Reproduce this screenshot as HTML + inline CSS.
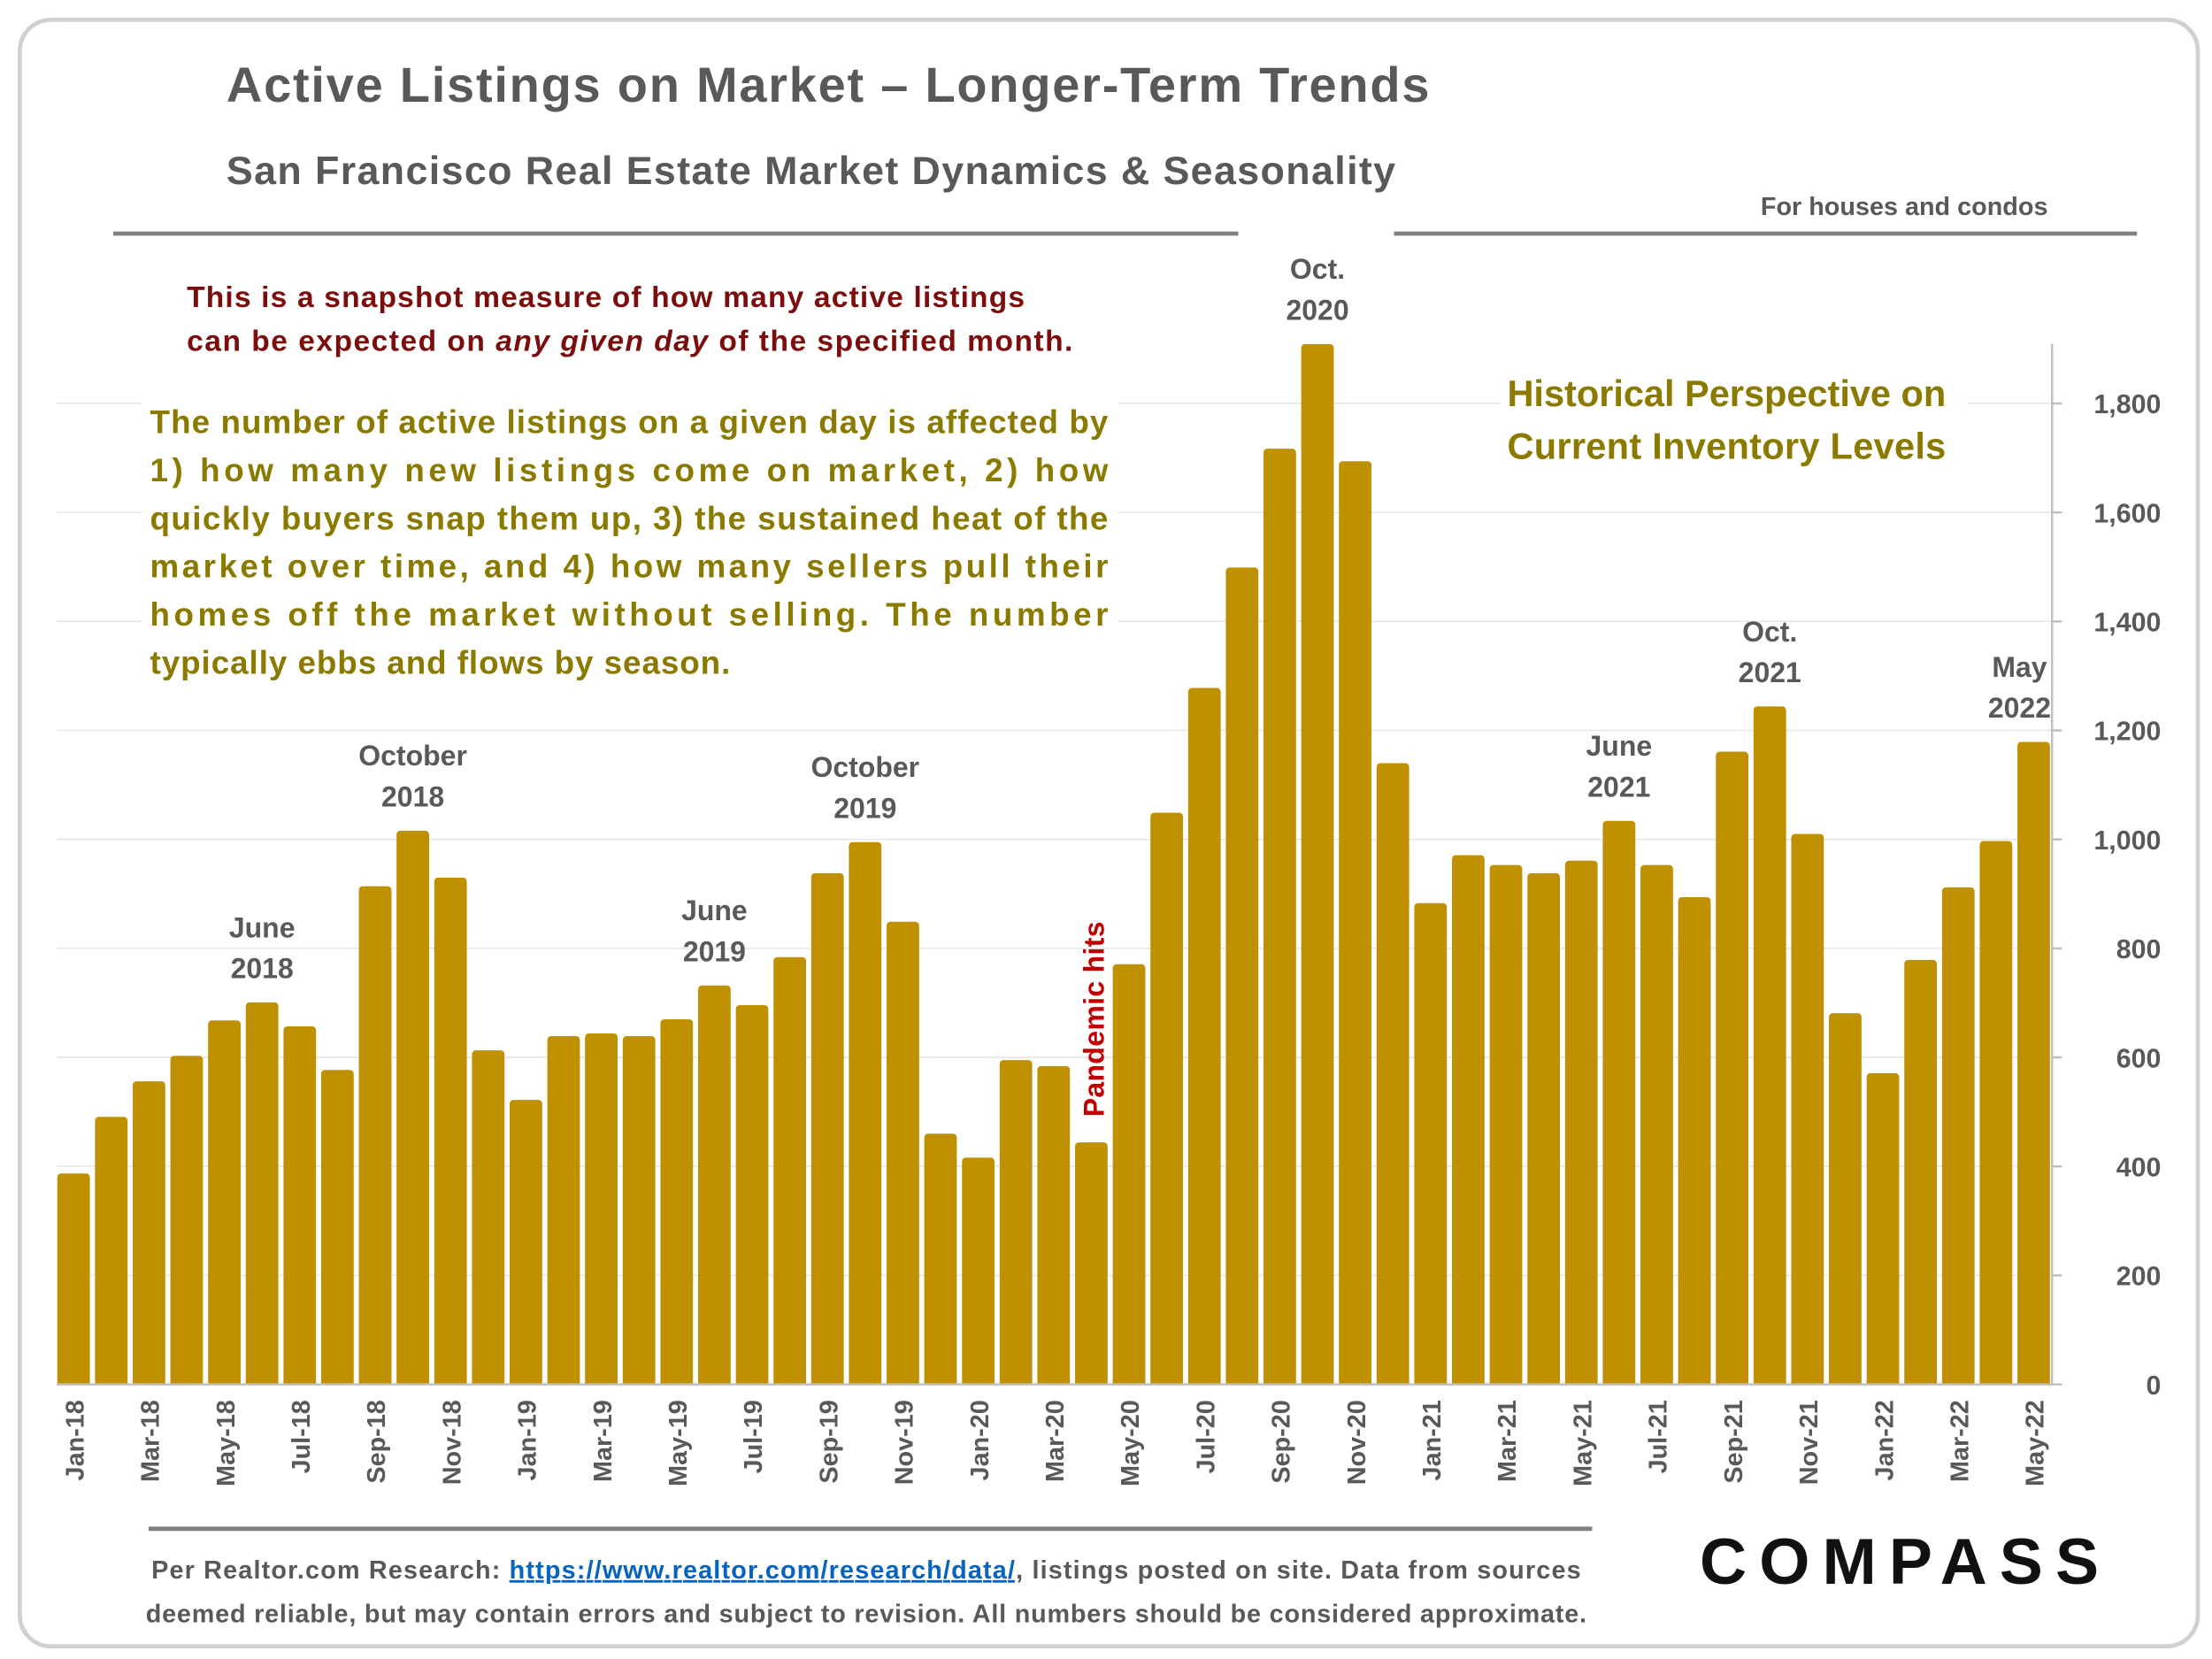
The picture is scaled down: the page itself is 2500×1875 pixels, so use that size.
<!DOCTYPE html>
<html><head><meta charset="utf-8"><style>
html,body{margin:0;padding:0;background:#fff}
svg{display:block;font-family:"Liberation Sans",sans-serif}
</style></head><body>
<svg id="chart" width="2500" height="1875" viewBox="0 0 1563 1172" preserveAspectRatio="none" xmlns="http://www.w3.org/2000/svg">
<rect x="14" y="14" width="1539" height="1149" rx="22" fill="#fff" stroke="#d0d0d0" stroke-width="3"/>
<text x="160" y="72" font-size="35" font-weight="bold" fill="#595959" textLength="850">Active Listings on Market – Longer-Term Trends</text>
<text x="160" y="130" font-size="28" font-weight="bold" fill="#595959" textLength="826">San Francisco Real Estate Market Dynamics &amp; Seasonality</text>
<line x1="80" y1="165" x2="875" y2="165" stroke="#808080" stroke-width="3"/>
<line x1="985" y1="165" x2="1510" y2="165" stroke="#808080" stroke-width="3"/>
<text x="1447" y="152" font-size="18" font-weight="bold" fill="#595959" text-anchor="end">For houses and condos</text>
<g id="grid"></g>
<g id="bars"></g>
<g id="axes"></g>
<g id="notes">
<rect x="100" y="280" width="690" height="205" fill="#fff"/>
<rect x="120" y="190" width="640" height="70" fill="#fff"/>
<rect x="1060" y="258" width="330" height="80" fill="#fff"/>
<text x="132" y="217" font-size="21" font-weight="bold" fill="#7b0d0d" textLength="592">This is a snapshot measure of how many active listings</text>
<text x="132" y="248" font-size="21" font-weight="bold" fill="#7b0d0d" textLength="626">can be expected on <tspan font-style="italic">any given day</tspan> of the specified month.</text>
<g font-size="23" font-weight="bold" fill="#8a7a00">
<text x="106" y="306" textLength="677">The number of active listings on a given day is affected by</text>
<text x="106" y="340" textLength="677">1) how many new listings come on market, 2) how</text>
<text x="106" y="374" textLength="677">quickly buyers snap them up, 3) the sustained heat of the</text>
<text x="106" y="408" textLength="677">market over time, and 4) how many sellers pull their</text>
<text x="106" y="442" textLength="677">homes off the market without selling. The number</text>
<text x="106" y="476" textLength="410">typically ebbs and flows by season.</text>
</g>
<text x="1065" y="287" font-size="26" font-weight="bold" fill="#8a7a00" textLength="310">Historical Perspective on</text>
<text x="1065" y="324" font-size="26" font-weight="bold" fill="#8a7a00" textLength="310">Current Inventory Levels</text>
</g>
<g id="annots" font-size="20" font-weight="bold" fill="#595959" text-anchor="middle"></g>
<text transform="translate(780,789) rotate(-90)" font-size="20" font-weight="bold" fill="#c00000" textLength="138">Pandemic hits</text>
<line x1="105" y1="1080" x2="1125" y2="1080" stroke="#808080" stroke-width="3"/>
<text x="107" y="1115" font-size="18" font-weight="bold" fill="#595959" textLength="1010">Per Realtor.com Research:  <tspan fill="#0563c1" text-decoration="underline">https://www.realtor.com/research/data/</tspan>, listings posted on site. Data from sources</text>
<text x="612" y="1146" font-size="18" font-weight="bold" fill="#595959" text-anchor="middle" textLength="1018">deemed reliable, but may contain errors and subject to revision. All numbers should be considered approximate.</text>
<text x="1342" y="1119" font-size="46" font-weight="bold" fill="#111" text-anchor="middle" textLength="282">COMPASS</text>
</svg>
<script>
const months = ["Jan","Feb","Mar","Apr","May","Jun","Jul","Aug","Sep","Oct","Nov","Dec"];
const categories = [];
for (let y = 18; y <= 22; y++) for (let m = 0; m < 12; m++) { if (y === 22 && m > 4) break; categories.push(months[m] + "-" + y); }
const listings = [387,491,556,603,668,701,657,577,914,1016,930,613,
522,639,644,639,670,732,696,784,938,995,849,460,
416,595,584,444,771,1049,1278,1499,1717,1909,1694,1140,
883,971,953,938,961,1034,953,894,1161,1244,1010,681,
571,779,912,997,1179];
const yTicks = [0,200,400,600,800,1000,1200,1400,1600,1800];
const annotations = [
 {cat:"Jun-18", lines:["June","2018"]},
 {cat:"Oct-18", lines:["October","2018"]},
 {cat:"Jun-19", lines:["June","2019"]},
 {cat:"Oct-19", lines:["October","2019"]},
 {cat:"Oct-20", lines:["Oct.","2020"]},
 {cat:"Jun-21", lines:["June","2021"]},
 {cat:"Oct-21", lines:["Oct.","2021"]},
 {cat:"May-22", lines:["May","2022"]}
];
const NS = "http://www.w3.org/2000/svg";
const x0 = 52, step = (1437 - 52) / 52, bw = 23, yBase = 978, yTop = 285;
const xScale = i => x0 + i * step;
const yScale = v => yBase - v * (yBase - yTop) / 1800;
function mk(tag, attrs, parent) { const e = document.createElementNS(NS, tag); for (const k in attrs) e.setAttribute(k, attrs[k]); parent.appendChild(e); return e; }
const grid = document.getElementById("grid"), bars = document.getElementById("bars"), axes = document.getElementById("axes"), ann = document.getElementById("annots");
yTicks.forEach(t => {
  if (t > 0) {
    const g = mk("line", {x1:40, x2:1450, y1:yScale(t), y2:yScale(t), stroke:"#e6e6e6", "stroke-width":1}, grid);
    
    
  }
  const tk = mk("line", {x1:1450, x2:1457, y1:yScale(t), y2:yScale(t), stroke:"#bfbfbf", "stroke-width":1.5}, axes);
  
  
  const lb = mk("text", {x:1527, y:yScale(t) + 7, "font-size":19, "font-weight":"bold", fill:"#595959", "text-anchor":"end"}, axes);
  lb.textContent = t.toLocaleString("en-US");
  
  
});
listings.forEach((v, i) => {
  const b = mk("path", {d:`M${xScale(i)-bw/2},${yBase} V${yScale(v)+3} Q${xScale(i)-bw/2},${yScale(v)} ${xScale(i)-bw/2+3},${yScale(v)} H${xScale(i)+bw/2-3} Q${xScale(i)+bw/2},${yScale(v)} ${xScale(i)+bw/2},${yScale(v)+3} V${yBase} Z`, fill:"#bf9000"}, bars);
  
  
  if (i % 2 === 0) {
    const lb = mk("text", {transform:`translate(${xScale(i)+7},${989}) rotate(-90)`, "font-size":18, "font-weight":"bold", fill:"#595959", "text-anchor":"end"}, axes);
    lb.textContent = categories[i];
    
    
  }
});
const ax = mk("line", {x1:40, x2:1450, y1:yBase, y2:yBase, stroke:"#bfbfbf", "stroke-width":1.5}, axes);


const ay = mk("line", {x1:1450, x2:1450, y1:243, y2:yBase, stroke:"#bfbfbf", "stroke-width":1.5}, axes);


annotations.forEach(a => {
  const i = categories.indexOf(a.cat);
  const top = yScale(listings[i]);
  const t = mk("text", {x:xScale(i) - (a.cat==="May-22"?10:0), y:top - 46}, ann);
  
  
  a.lines.forEach((l, k) => { const s = mk("tspan", {x:xScale(i) - (a.cat==="May-22"?10:0), dy:k ? 29 : 0}, t); s.textContent = l; });
});
</script>
</body></html>
